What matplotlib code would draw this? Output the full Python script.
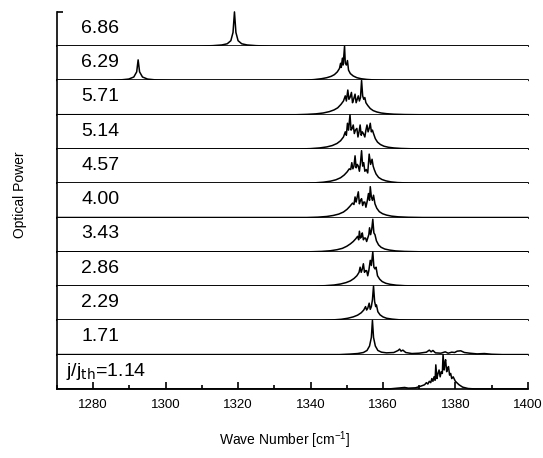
import matplotlib.pyplot as plt
from matplotlib.ticker import MultipleLocator

plt.rcParams['font.family'] = ['Liberation Sans', 'DejaVu Sans']

# current ratio j/j_th for each spectrum, top to bottom
labels = ["6.86", "6.29", "5.71", "5.14", "4.57", "4.00",
          "3.43", "2.86", "2.29", "1.71", "j/j$_{\\mathrm{th}}$=1.14"]

# spectra: wave number [cm^-1] and normalised optical power
wn_686 = [1270, 1309, 1313, 1315.5, 1317, 1318.0, 1318.6, 1319.0, 1319.4, 1320.0,
          1321, 1322.5, 1325, 1329, 1400]
pw_686 = [0, 0, 0.015, 0.035, 0.07, 0.16, 0.4, 1.0, 0.4, 0.16,
          0.07, 0.035, 0.015, 0, 0]

wn_629 = [1270, 1284, 1287.5, 1289.8, 1291.2, 1292.0, 1292.4, 1292.8, 1293.6, 1295.0,
          1297.3, 1302, 1336, 1339, 1341, 1343, 1344.5, 1345.7, 1346.6, 1347.4,
          1348.0, 1348.3, 1348.5, 1348.8, 1349.0, 1349.4, 1349.6, 1349.9, 1350.2,
          1350.5, 1351.0, 1351.8, 1352.8, 1354, 1355.5, 1357.5, 1361, 1400]
pw_629 = [0, 0, 0.015, 0.04, 0.1, 0.25, 0.6, 0.25, 0.1, 0.04,
          0.015, 0, 0, 0.01, 0.025, 0.05, 0.08, 0.12, 0.17, 0.25,
          0.35, 0.5, 0.38, 0.65, 0.45, 1.0, 0.5, 0.45, 0.58,
          0.3, 0.2, 0.13, 0.08, 0.05, 0.03, 0.015, 0, 0]

wn_571 = [1270, 1336, 1339, 1341.5, 1343.5, 1345.2, 1346.5, 1347.5, 1348.4, 1349.1,
          1349.6, 1349.9, 1350.3, 1350.6, 1350.9, 1351.3, 1351.6, 1351.9, 1352.3,
          1352.6, 1352.9, 1353.2, 1353.5, 1353.8, 1354.1, 1354.4, 1354.7, 1355.0,
          1355.3, 1355.8, 1356.5, 1357.3, 1358.3, 1359.5, 1361, 1363, 1366, 1370, 1400]
pw_571 = [0, 0, 0.01, 0.025, 0.05, 0.09, 0.14, 0.2, 0.3, 0.4,
          0.55, 0.4, 0.72, 0.45, 0.5, 0.65, 0.35, 0.45, 0.6,
          0.35, 0.45, 0.55, 0.4, 0.5, 1.0, 0.55, 0.45, 0.5,
          0.35, 0.27, 0.18, 0.12, 0.08, 0.05, 0.03, 0.015, 0.005, 0, 0]

wn_514 = [1270, 1337, 1340, 1342.5, 1344.5, 1346, 1347.3, 1348.3, 1349.1, 1349.6,
          1349.9, 1350.2, 1350.5, 1350.9, 1351.2, 1351.5, 1351.8, 1352.1, 1352.4,
          1352.8, 1353.1, 1353.4, 1353.7, 1354.0, 1354.3, 1354.6, 1355.0, 1355.3,
          1355.6, 1355.9, 1356.2, 1356.5, 1356.8, 1357.1, 1357.4, 1357.9, 1358.5,
          1359.3, 1360.3, 1361.5, 1363, 1365, 1368, 1372, 1400]
pw_514 = [0, 0, 0.01, 0.03, 0.06, 0.1, 0.16, 0.24, 0.35, 0.5,
          0.4, 0.75, 0.55, 1.0, 0.55, 0.6, 0.7, 0.45, 0.55,
          0.6, 0.35, 0.5, 0.7, 0.4, 0.5, 0.45, 0.35, 0.55,
          0.7, 0.5, 0.6, 0.75, 0.5, 0.55, 0.45, 0.3, 0.2,
          0.13, 0.08, 0.05, 0.03, 0.015, 0.005, 0, 0]

wn_457 = [1270, 1338, 1341, 1343.5, 1345.5, 1347, 1348.3, 1349.3, 1350.1, 1350.7,
          1351.1, 1351.4, 1351.7, 1352.0, 1352.3, 1352.6, 1352.9, 1353.2, 1353.5,
          1353.8, 1354.1, 1354.4, 1354.7, 1355.0, 1355.4, 1355.8, 1356.2, 1356.6,
          1357.0, 1357.3, 1357.6, 1358.1, 1358.8, 1359.7, 1360.8, 1362.2, 1364,
          1367, 1371, 1400]
pw_457 = [0, 0, 0.01, 0.03, 0.06, 0.1, 0.16, 0.24, 0.33, 0.42,
          0.4, 0.6, 0.42, 0.5, 0.8, 0.45, 0.55, 0.5, 0.35,
          0.6, 0.95, 0.5, 0.6, 0.35, 0.4, 0.3, 0.85, 0.55,
          0.7, 0.5, 0.4, 0.27, 0.17, 0.11, 0.07, 0.04, 0.02,
          0.007, 0, 0]

wn_400 = [1270, 1339, 1342, 1344.5, 1346.3, 1347.8, 1349.1, 1350.1, 1350.9, 1351.6,
          1352.0, 1352.3, 1352.6, 1352.8, 1353.2, 1353.5, 1353.8, 1354.1, 1354.4,
          1354.7, 1355.0, 1355.3, 1355.7, 1356.0, 1356.3, 1356.5, 1356.8, 1357.1,
          1357.4, 1357.8, 1358.3, 1359, 1359.9, 1361, 1362.4, 1364.2, 1367, 1371, 1400]
pw_400 = [0, 0, 0.01, 0.03, 0.06, 0.1, 0.16, 0.24, 0.33, 0.42,
          0.38, 0.6, 0.45, 0.55, 0.75, 0.4, 0.5, 0.55, 0.35,
          0.45, 0.45, 0.3, 0.5, 0.7, 0.5, 0.9, 0.6, 0.5,
          0.65, 0.4, 0.27, 0.17, 0.11, 0.07, 0.04, 0.02, 0.007, 0, 0]

wn_343 = [1270, 1340, 1343, 1345.5, 1347.3, 1348.8, 1350, 1351, 1351.8, 1352.5,
          1353.0, 1353.3, 1353.5, 1353.8, 1354.1, 1354.3, 1354.6, 1354.9, 1355.2,
          1355.5, 1355.8, 1356.1, 1356.3, 1356.6, 1356.9, 1357.2, 1357.5, 1357.8,
          1358.2, 1358.8, 1359.5, 1360.5, 1361.8, 1363.5, 1366, 1370, 1400]
pw_343 = [0, 0, 0.01, 0.03, 0.06, 0.1, 0.16, 0.23, 0.3, 0.38,
          0.45, 0.35, 0.6, 0.4, 0.45, 0.55, 0.35, 0.4, 0.4,
          0.3, 0.4, 0.5, 0.7, 0.5, 0.65, 0.95, 0.55, 0.5,
          0.32, 0.2, 0.13, 0.08, 0.05, 0.025, 0.01, 0, 0]

wn_286 = [1270, 1341, 1344, 1346.5, 1348.3, 1349.8, 1351, 1352, 1352.8, 1353.4,
          1353.7, 1354.0, 1354.3, 1354.6, 1354.9, 1355.2, 1355.5, 1355.8, 1356.1,
          1356.5, 1356.8, 1357.2, 1357.5, 1357.8, 1358.1, 1358.5, 1359.1, 1359.8,
          1360.8, 1362, 1363.7, 1366, 1370, 1400]
pw_286 = [0, 0, 0.01, 0.03, 0.06, 0.1, 0.15, 0.22, 0.3, 0.4,
          0.55, 0.4, 0.5, 0.65, 0.4, 0.45, 0.45, 0.3, 0.45,
          0.75, 0.6, 1.0, 0.55, 0.5, 0.55, 0.3, 0.2, 0.13,
          0.08, 0.05, 0.025, 0.01, 0, 0]

wn_229 = [1270, 1343, 1346, 1348.5, 1350.3, 1351.8, 1353, 1354, 1354.7, 1355.2,
          1355.5, 1355.8, 1356.2, 1356.5, 1356.8, 1357.1, 1357.4, 1357.7, 1358.0,
          1358.2, 1358.6, 1359.2, 1360, 1361, 1362.5, 1364.5, 1367, 1371, 1400]
pw_229 = [0, 0, 0.01, 0.03, 0.06, 0.1, 0.15, 0.22, 0.3, 0.4,
          0.3, 0.35, 0.5, 0.32, 0.4, 0.6, 1.0, 0.55, 0.4,
          0.45, 0.25, 0.16, 0.1, 0.06, 0.035, 0.015, 0.005, 0, 0]

wn_171 = [1270, 1348, 1351, 1353, 1354.6, 1355.6, 1356.3, 1356.8, 1357.1, 1357.4,
          1357.9, 1358.6, 1359.6, 1361, 1363, 1364.2, 1364.6, 1365.0, 1365.5, 1366.3,
          1368, 1370, 1372, 1372.8, 1373.3, 1373.8, 1374.5, 1376, 1377.2, 1378,
          1379, 1379.8, 1380.5, 1381.5, 1382.5, 1384, 1386, 1388, 1390, 1393, 1400]
pw_171 = [0, 0, 0.015, 0.03, 0.06, 0.12, 0.25, 0.5, 1.0, 0.5,
          0.25, 0.12, 0.07, 0.05, 0.06, 0.12, 0.16, 0.1, 0.13, 0.06,
          0.03, 0.04, 0.07, 0.13, 0.08, 0.12, 0.05, 0.04, 0.08, 0.04,
          0.07, 0.06, 0.1, 0.11, 0.06, 0.04, 0.02, 0.03, 0.01, 0, 0]

wn_114 = [1270, 1362, 1364, 1366, 1367, 1369, 1370.5, 1371.5, 1372.0, 1372.4,
          1372.8, 1373.2, 1373.5, 1373.8, 1374.1, 1374.4, 1374.6, 1374.9, 1375.2,
          1375.5, 1375.8, 1376.1, 1376.4, 1376.6, 1376.9, 1377.1, 1377.3, 1377.6,
          1377.9, 1378.1, 1378.4, 1378.7, 1379.0, 1379.4, 1380, 1381, 1382, 1383.5,
          1385, 1400]
pw_114 = [0, 0, 0.02, 0.04, 0.02, 0.03, 0.08, 0.12, 0.18, 0.14,
          0.22, 0.18, 0.3, 0.22, 0.35, 0.25, 0.7, 0.3, 0.45,
          0.55, 0.35, 0.5, 0.45, 1.0, 0.55, 0.75, 0.85, 0.5,
          0.6, 0.65, 0.4, 0.45, 0.3, 0.35, 0.22, 0.12, 0.05, 0.01,
          0, 0]

spectra = [(wn_686, pw_686), (wn_629, pw_629), (wn_571, pw_571), (wn_514, pw_514),
           (wn_457, pw_457), (wn_400, pw_400), (wn_343, pw_343), (wn_286, pw_286),
           (wn_229, pw_229), (wn_171, pw_171), (wn_114, pw_114)]

x_ticks = [1280, 1300, 1320, 1340, 1360, 1380, 1400]

fig = plt.figure(figsize=(5.43, 4.58), dpi=100)
gs = fig.add_gridspec(len(spectra), 1, left=0.105, right=0.972,
                      top=0.974, bottom=0.151, hspace=0)

for i, ((wn, pw), lab) in enumerate(zip(spectra, labels)):
    ax = fig.add_subplot(gs[i])
    ax.plot(wn, pw, color="black", lw=1.1, clip_on=False)
    ax.set_xlim(1270, 1400)
    ax.set_ylim(0, 1.0)
    for side in ("top", "right"):
        ax.spines[side].set_visible(False)
    ax.spines["left"].set_linewidth(1.2)
    ax.spines["bottom"].set_linewidth(1.2)
    if i == 0:
        ax.set_yticks([1.0])
        ax.tick_params(axis="y", direction="in", length=4, width=1.2,
                       labelleft=False)
    else:
        ax.set_yticks([])
    if i < len(spectra) - 1:
        ax.set_xticks([])
        ax.text(0.051, 0.52, lab, transform=ax.transAxes, fontsize=14,
                va="center", ha="left")
    else:
        ax.set_xticks(x_ticks)
        ax.xaxis.set_minor_locator(MultipleLocator(10))
        ax.tick_params(axis="x", which="major", direction="in", length=5,
                       width=1.2, labelsize=9.5, pad=7)
        ax.tick_params(axis="x", which="minor", direction="in", length=3,
                       width=1.2)
        ax.text(0.019, 0.52, lab, transform=ax.transAxes, fontsize=14,
                va="center", ha="left")

fig.text(0.525, 0.015, "Wave Number [cm$^{\\mathregular{-1}}$]", ha="center",
         va="bottom", fontsize=10)
fig.text(0.037, 0.575, "Optical Power", rotation=90, ha="center", va="center",
         fontsize=10)

fig.savefig("out.png", dpi=100)
